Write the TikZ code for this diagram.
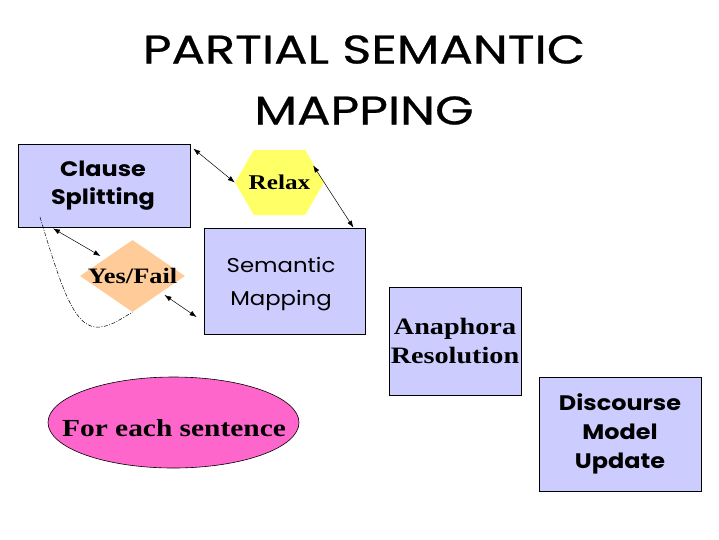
\documentclass[tikz,border=0pt]{standalone}
\usepackage{fontspec}
\setmainfont{Liberation Serif}
\newfontfamily\comic[FakeStretch=1.14]{Poppins}
\newfontfamily\titulofont[FakeStretch=1.24,FakeBold=0.6]{Poppins}
\newfontfamily\serifancha[FakeStretch=1.2]{Liberation Serif}
\usepackage{tikz}
\usetikzlibrary{arrows.meta,shapes.geometric,shapes.symbols,calc,positioning}
\definecolor{lila}{HTML}{CCCCFF}
\definecolor{amarillo}{HTML}{FFFF66}
\definecolor{durazno}{HTML}{FFCC99}
\definecolor{rosa}{HTML}{FF66CC}
\tikzset{
  caja/.style={rectangle,fill=lila,draw=black,line width=0.8pt,inner sep=0pt,align=center},
  hexa/.style={signal,signal to=east and west,signal pointer angle=120,fill=amarillo,
    draw=none,minimum width=89pt,minimum height=65pt,inner sep=0pt},
  rombo/.style={diamond,fill=durazno,draw=none,minimum width=105pt,minimum height=72pt,inner sep=0pt},
  elipse/.style={ellipse,fill=rosa,draw=black,line width=0.6pt,minimum width=251pt,minimum height=91pt,inner sep=0pt},
  mano/.style={font=\comic\fontsize{20}{33}\selectfont},
  manob/.style={font=\comic\bfseries\fontsize{21}{28}\selectfont},
  negrita/.style={font=\serifancha\bfseries\fontsize{22}{29}\selectfont},
  flecha/.style={{Latex[length=7pt,width=5pt]}-{Latex[length=7pt,width=5pt]},line width=0.5pt},
  vuelta/.style={line width=0.5pt,dash pattern=on 4pt off 1.5pt on 1pt off 1.5pt}
}
\begin{document}
\begin{tikzpicture}[x=1pt,y=-1pt]
\useasboundingbox (0,0) rectangle (719,539);
% titulo
\node[font=\titulofont\fontsize{40}{61}\selectfont,align=center] (titulo) at (364,80)
  {PARTIAL SEMANTIC\\MAPPING};
% cajas
\node[caja,minimum width=172pt,minimum height=83pt] (cs) at (104,185.5) {};
\node[manob,align=center] (cstxt) at (103,186) {Clause\\Splitting};
\node[caja,minimum width=161pt,minimum height=106pt] (sm) at (284.5,281) {};
\node[mano,align=center] (smtxt) at (281,284) {Semantic\\Mapping};
\node[caja,minimum width=132pt,minimum height=108pt,negrita,font=\serifancha\bfseries\fontsize{23.5}{29}\selectfont] (ar) at (455,341) {Anaphora\\Resolution};
\node[caja,minimum width=162pt,minimum height=114pt,manob,font=\comic\bfseries\fontsize{21}{29}\selectfont] (dm) at (620,434)
  {Discourse\\Model\\Update};
% hexagono y rombo
\node[hexa,label={[negrita,font=\serifancha\bfseries\fontsize{21}{29}\selectfont]center:Relax}] (rl) at (279.5,182.5) {};
\node[rombo,label={[negrita]center:Yes/Fail}] (yf) at (132.5,276) {};
% elipse
\node[elipse] (fe) at (173.5,422.5) {};
\node[negrita,font=\serifancha\bfseries\fontsize{24.5}{29}\selectfont] (fetxt) at (174,428) {For each sentence};
% flechas
\draw[flecha] ([shift={(3,5)}]cs.north east) -- (rl.west);
\draw[flecha] ([shift={(-11,-17)}]rl.east) -- ([shift={(-12,0)}]sm.north east);
\draw[flecha] ([shift={(-51,1)}]cs.south) -- ([shift={(-32,-20)}]yf.center);
\draw[flecha] ([shift={(32,19)}]yf.center) -- ([shift={(-7,36)}]sm.west);
% lazo punteado
\coordinate (ini) at (40,217);
\draw[vuelta] (ini) .. controls (62,290) and (75,330) .. (100,327)
  .. controls (112,326) and (122,318) .. (yf.south);
\end{tikzpicture}
\end{document}
